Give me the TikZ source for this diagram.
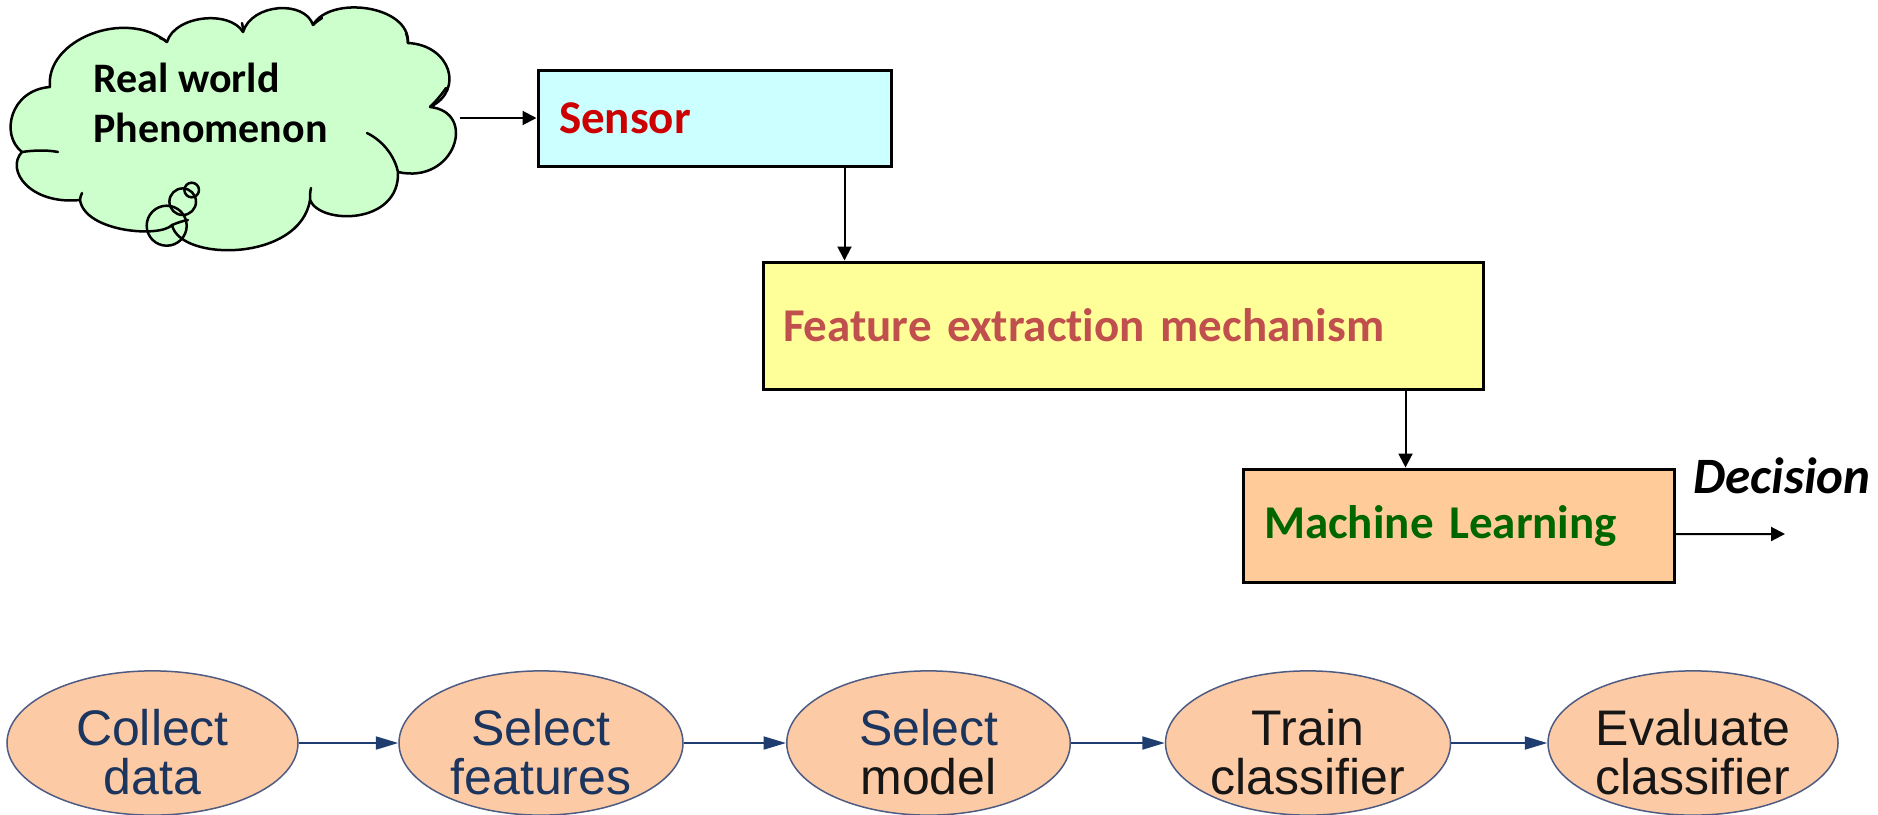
\documentclass[tikz,border=0pt]{standalone}
\usepackage{fontspec}
\usetikzlibrary{arrows.meta,shapes.geometric,calc}
\newfontfamily\calibri[Ligatures={NoCommon}]{Carlito}
\newfontfamily\arialf{Liberation Sans}
\definecolor{cloudgreen}{HTML}{CCFFCC}
\definecolor{sensorfill}{HTML}{CCFFFF}
\definecolor{featfill}{HTML}{FFFF99}
\definecolor{mlfill}{HTML}{FFCC99}
\definecolor{peach}{HTML}{FCCBA6}
\definecolor{ellborder}{HTML}{4E5B82}
\definecolor{navyarrow}{HTML}{1F3D6E}
\definecolor{navytext}{HTML}{1C355E}
\definecolor{darktext}{HTML}{161616}
\definecolor{sensorred}{HTML}{CC0000}
\definecolor{featred}{HTML}{C0504D}
\definecolor{mlgreen}{HTML}{006600}
\begin{document}
\begin{tikzpicture}[x=0.4pt,y=-0.4pt,
  box/.style={draw=black, line width=1.2pt, inner xsep=8.4pt, inner ysep=0pt,
    align=left, font=\calibri\bfseries\fontsize{18.8pt}{22pt}\selectfont},
  arr/.style={draw=black, line width=0.8pt, -{Triangle[length=5.6pt,width=5.6pt]}},
  stage/.style={ellipse, draw=ellborder, line width=0.6pt, fill=peach,
    minimum height=56.8pt, inner sep=0pt, align=center,
    font=\arialf\fontsize{20pt}{19.6pt}\selectfont,
    text height=40.8pt, text depth=0pt},
  barr/.style={draw=navyarrow, line width=0.8pt, -{Triangle[length=9pt,width=5.2pt]}},
  cloudline/.style={draw=black, line width=1pt, line join=round, line cap=round}
]
\useasboundingbox (0,0) rectangle (1878,814);

% thought cloud outline
\def\cloudpath{(50,87)
  .. controls (45,40) and (125,8) .. (167,42)
  .. controls (175,15) and (230,10) .. (243,32)
  .. controls (252,3) and (305,0) .. (313,25)
  .. controls (330,-5) and (410,5) .. (408,43)
  .. controls (450,45) and (465,90) .. (430,107)
  .. controls (478,112) and (455,185) .. (398,172)
  .. controls (400,225) and (320,225) .. (310,200)
  .. controls (300,262) and (180,262) .. (172,225)
  .. controls (160,238) and (85,232) .. (80,200)
  .. controls (30,205) and (5,170) .. (22,152)
  .. controls (0,135) and (10,90) .. (50,87) -- cycle}
\fill[cloudgreen] \cloudpath;
\fill[cloudgreen] (166.7,225.7) circle[radius=20];
\fill[cloudgreen] (182.7,201.7) circle[radius=13.3];
\fill[cloudgreen] (191.7,190) circle[radius=7.3];
\draw[cloudline] \cloudpath;
% creases between the lobes
\draw[cloudline] (22,152) .. controls (35,150) and (48,150) .. (58,152);
\draw[cloudline] (367,133) .. controls (385,142) and (395,158) .. (398,172);
\draw[cloudline] (430,107) .. controls (437,100) and (442,94) .. (446,88);
\draw[cloudline] (408,43) .. controls (408,39) and (407,36) .. (406,33);
\draw[cloudline] (313,25) .. controls (316,22) and (319,20) .. (322,18);
\draw[cloudline] (243,32) .. controls (243,29) and (243,26) .. (242,23);
\draw[cloudline] (160,38) .. controls (163,39) and (165,40) .. (167,42);
\draw[cloudline] (310,200) .. controls (310,196) and (310,192) .. (311,188);
\draw[cloudline] (172,225) .. controls (177,223) and (182,221) .. (188,220);
\draw[cloudline] (80,200) .. controls (80,198) and (81,195) .. (82,193);
% bubbles
\draw[cloudline] (166.7,225.7) circle[radius=20];
\draw[cloudline] (182.7,201.7) circle[radius=13.3];
\draw[cloudline] (191.7,190) circle[radius=7.3];

\node[anchor=west, inner sep=0pt, align=left,
  font=\calibri\bfseries\fontsize{16.8pt}{20pt}\selectfont]
  (phen) at (93,103) {Real world\\Phenomenon};
\coordinate (cloudE) at (460,118);

% processing chain
\node[box, fill=sensorfill, minimum width=141.2pt, minimum height=38.4pt,
  text width=124.4pt, text=sensorred] (sensor) at (714.5,118) {Sensor};
\node[box, fill=featfill, minimum width=288pt, minimum height=50.8pt,
  inner xsep=8pt, text width=272pt, text=featred] (feat) at (1123,325.5)
  {Feature extraction mechanism};
\node[box, fill=mlfill, minimum width=172.4pt, minimum height=45.2pt,
  text width=155.6pt, text=mlgreen] (ml) at (1458.5,525.5) {Machine Learning};
\node[font=\calibri\bfseries\itshape\fontsize{20.4pt}{24pt}\selectfont,
  inner sep=0pt] (decision) at (1782,476) {Decision};
\coordinate (decEnd) at (1785,534);

\draw[arr] (cloudE) -- (sensor.west);
\draw[arr] ([xshift=-19.2pt]sensor.south east) -- ([xshift=-19.2pt]sensor.south east |- feat.north);
\draw[arr] ([xshift=-31.6pt]feat.south east) -- ([xshift=-31.6pt]feat.south east |- ml.north);
\draw[arr] ([yshift=-3.4pt]ml.east) -- (decEnd);

% design cycle
\node[stage, minimum width=116.4pt, text=navytext] (s1) at (152.5,743) {Collect\\data};
\node[stage, minimum width=113.6pt, text=navytext] (s2) at (541,743) {Select\\features};
\node[stage, minimum width=113.4pt, text=navytext] (s3) at (928.5,743)
  {Select\\\textcolor{darktext}{model}};
\node[stage, minimum width=114pt, text=darktext] (s4) at (1308,743) {Train\\classifier};
\node[stage, minimum width=116pt, text=darktext] (s5) at (1693,743) {Evaluate\\classifier};

\draw[barr] (s1.east) -- (s2.west);
\draw[barr] (s2.east) -- (s3.west);
\draw[barr] (s3.east) -- (s4.west);
\draw[barr] (s4.east) -- (s5.west);
\end{tikzpicture}
\end{document}
